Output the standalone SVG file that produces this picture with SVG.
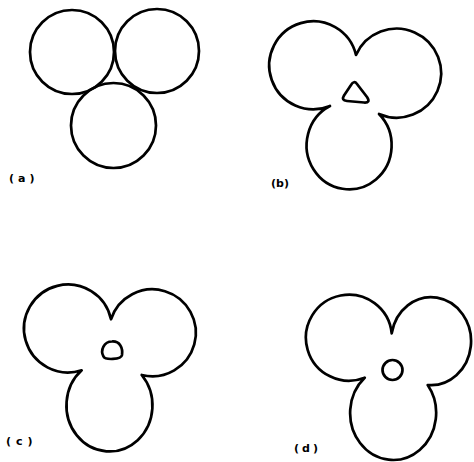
<svg xmlns="http://www.w3.org/2000/svg" width="474" height="462" viewBox="0 0 474 462">
<style>
.o{fill:none;stroke:#000;stroke-width:2.7;stroke-linejoin:round;stroke-linecap:round}
.lbl{font-family:"DejaVu Sans","Liberation Sans",sans-serif;font-weight:bold;font-size:11px;fill:#000}
</style>
<rect width="474" height="462" fill="#fff"/>
<g id="panel-a">
<circle class="o" cx="72" cy="52" r="42"/>
<circle class="o" cx="157" cy="51" r="42"/>
<circle class="o" cx="113.5" cy="125.5" r="42.5"/>
<text class="lbl" x="9" y="182" letter-spacing="4">(a)</text>
</g>
<g id="panel-b">
<path class="o" d="M330,106 A44,44 0 1 1 356,55 A44.5,44.5 0 1 1 379,114 A42.5,44 0 1 1 330,106 Z"/>
<path class="o" d="M351,85 Q354,80 357,84 L367,97 Q371,103 364,102.5 L347,101 Q341,100.5 344,95.5 Z"/>
<text class="lbl" x="271" y="187">(b)</text>
</g>
<g id="panel-c">
<path class="o" d="M81.7,370.3 A44,44 0 1 1 111,319.3 A43.5,43.5 0 1 1 141.7,375 A43,46 0 1 1 81.7,370.3 Z"/>
<path class="o" d="M103.5,356.5 C100,350 104,341.5 112,341.5 C120,341 123,348 122,355 C121,360 105,360 103.5,356.5 Z"/>
<text class="lbl" x="6" y="445" letter-spacing="5">(c)</text>
</g>
<g id="panel-d">
<path class="o" d="M364.7,377.7 A43,43 0 1 1 391.7,333.3 A40,44 0 1 1 427.7,385 A43,47 0 1 1 364.7,377.7 Z"/>
<circle class="o" cx="392.5" cy="370" r="10"/>
<text class="lbl" x="294" y="452" letter-spacing="3">(d)</text>
</g>
</svg>
